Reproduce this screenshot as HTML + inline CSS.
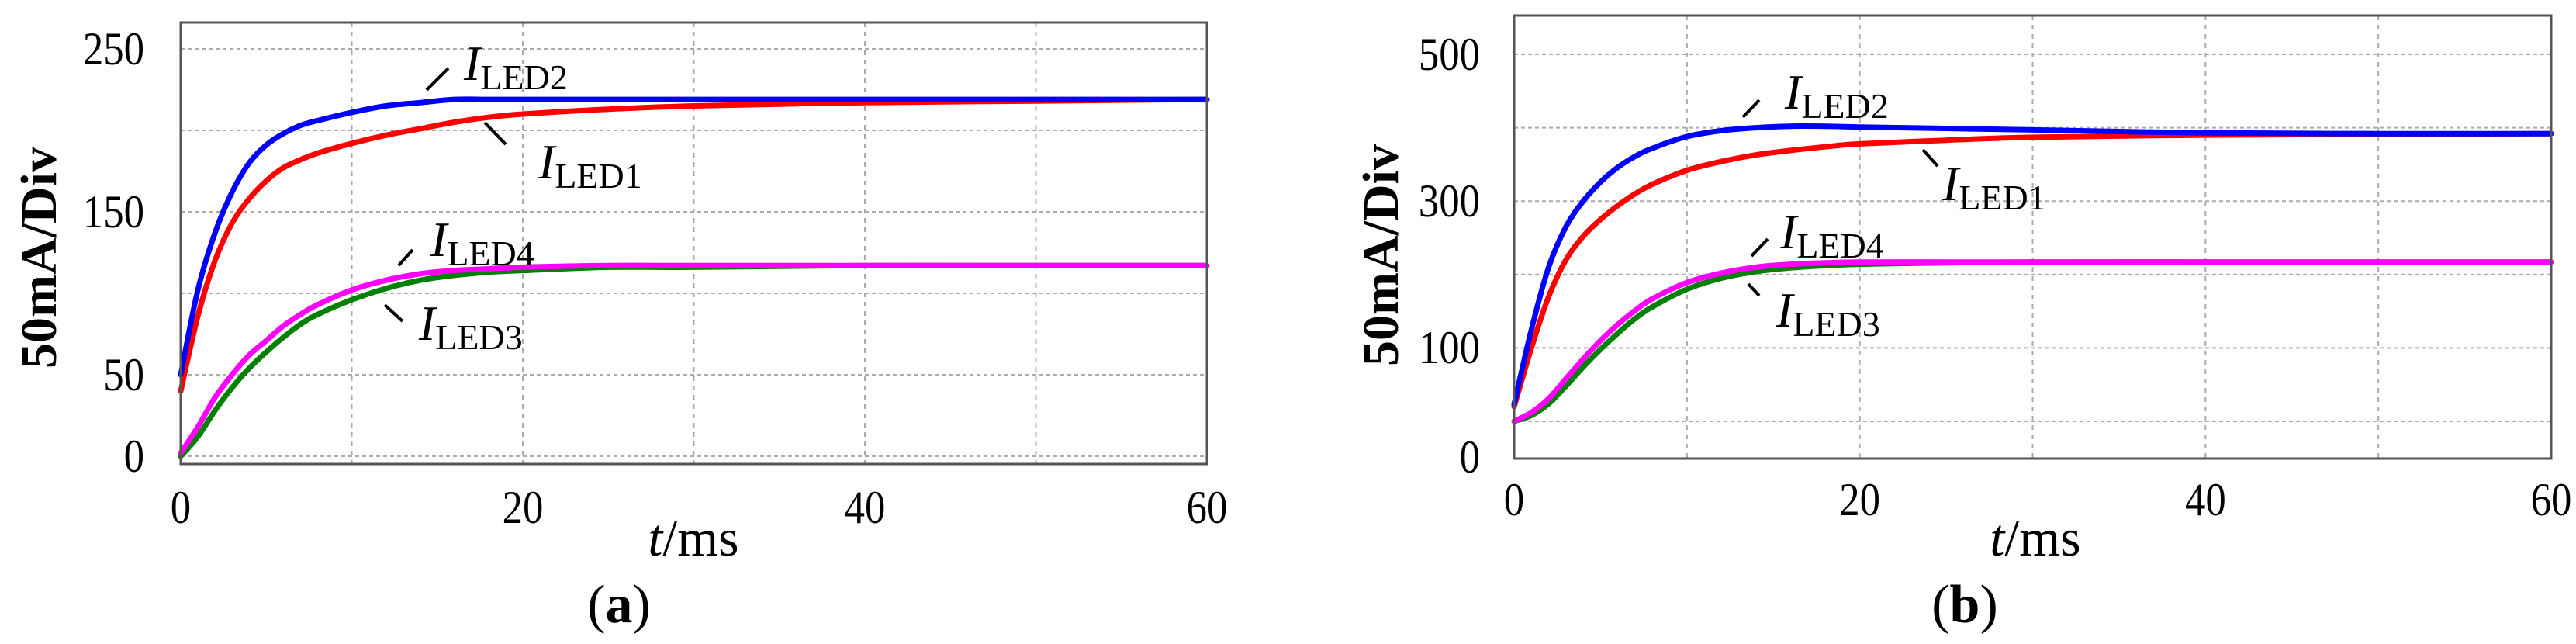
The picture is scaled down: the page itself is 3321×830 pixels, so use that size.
<!DOCTYPE html>
<html><head><meta charset="utf-8"><style>
html,body{margin:0;padding:0;background:#fff;width:3321px;height:830px;overflow:hidden}
svg text{font-family:"Liberation Serif",serif;fill:#000}
</style></head><body>
<svg id="chart" width="3321" height="830" viewBox="0 0 3321 830" xmlns="http://www.w3.org/2000/svg"></svg>
<script>
const times = [0,1,2,3,4,5,6,7,8,10,12,14,16,18,20,25,30,40,50,60];
const aLed1 = [40,86,120,143,158,169,177,182,186,192,197,201,205,208,210,213,215,217,218,219];
const aLed2 = [50,102,137,162,180,191,198,203,206,211,215,217,219,219,219,219,219,219,219,219];
const aLed3 = [0,12,28,42,54,64,73,81,87,96,103,108,111,113,114,116,116,117,117,117];
const aLed4 = [2,18,36,50,62,71,80,87,93,102,108,112,114,115,116,117,117,117,117,117];
const bLed1 = [20,100,170,220,252,275,294,310,323,342,354,363,369,374,378,383,387,390,391,392];
const bLed2 = [23,125,210,265,300,326,346,361,372,388,396,400,402,402,401,399,397,393,392,392];
const bLed3 = [0,8,24,48,74,98,120,140,156,180,195,204,209,212,214,216,217,217,217,217];
const bLed4 = [0,12,31,58,85,110,132,151,167,189,202,210,214,216,217,217,217,217,217,217];
const xTicks = [0,20,40,60];
const aYTicks = ["250","150","50","0"];
const aYTickVals = [250,150,50,0];
const bYTicks = ["500","300","100","0"];

const NS="http://www.w3.org/2000/svg";
const svg=document.getElementById('chart');
function mk(tag,attrs,parent){const e=document.createElementNS(NS,tag);for(const k in attrs)e.setAttribute(k,attrs[k]);(parent||svg).appendChild(e);return e;}

function smoothPath(P){
  let d='M'+P[0][0].toFixed(1)+','+P[0][1].toFixed(1);
  for(let i=0;i<P.length-1;i++){
    const p0=P[Math.max(0,i-1)],p1=P[i],p2=P[i+1],p3=P[Math.min(P.length-1,i+2)];
    const c1=[p1[0]+(p2[0]-p0[0])/6,p1[1]+(p2[1]-p0[1])/6];
    const c2=[p2[0]-(p3[0]-p1[0])/6,p2[1]-(p3[1]-p1[1])/6];
    d+=` C${c1[0].toFixed(1)},${c1[1].toFixed(1)} ${c2[0].toFixed(1)},${c2[1].toFixed(1)} ${p2[0].toFixed(1)},${p2[1].toFixed(1)}`;
  }
  return d;
}

function panel(cfg){
  const g=mk('g',{});
  
  
  const X=t=>cfg.x0+(t/60)*(cfg.x1-cfg.x0);
  const Y=v=>cfg.yZero-v*cfg.pxPerUnit;
  for(let i=1;i<6;i++){
    const l=mk('line',{x1:X(i*10),x2:X(i*10),y1:cfg.top,y2:cfg.bottom,stroke:'#aaa','stroke-width':2,'stroke-dasharray':'6,6'},g);
    
    
  }
  cfg.hGrid.forEach(v=>{
    const l=mk('line',{x1:cfg.x0,x2:cfg.x1,y1:Y(v),y2:Y(v),stroke:'#aaa','stroke-width':2,'stroke-dasharray':'5,4'},g);
    
    
  });
  cfg.series.forEach(s=>{
    const P=times.map((t,i)=>[X(t),Y(s.vals[i])]);
    const p=mk('path',{d:smoothPath(P),fill:'none',stroke:s.color,'stroke-width':7,'stroke-linejoin':'round','stroke-linecap':'round'},g);
    
    
  });
  const r=mk('rect',{x:cfg.x0,y:cfg.top,width:cfg.x1-cfg.x0,height:cfg.bottom-cfg.top,fill:'none',stroke:'#555','stroke-width':3},g);
  
  
  cfg.yLabels.forEach((lab,i)=>{
    const t=mk('text',{x:0,y:0,'font-size':60,'text-anchor':'end',transform:`translate(${cfg.yLabelX},${cfg.yLabelY[i]+20}) scale(0.88,1)`},g);
    t.textContent=lab;
    
    
  });
  xTicks.forEach(v=>{
    const t=mk('text',{x:0,y:0,'font-size':60,'text-anchor':'middle',transform:`translate(${X(v)},${cfg.xLabelY}) scale(0.88,1)`},g);
    t.textContent=v;
    
    
  });
  const xt=mk('text',{x:cfg.xTitleX,y:cfg.xTitleY,'font-size':68,'text-anchor':'middle'},g);
  xt.innerHTML='<tspan font-style="italic">t</tspan>/ms';
  
  
  const yt=mk('text',{x:0,y:0,'font-size':66,'font-weight':'bold','text-anchor':'middle',transform:`translate(${cfg.yTitleX},${cfg.yTitleY}) rotate(-90)`},g);
  yt.textContent='50mA/Div';
  
  
  const cap=mk('text',{x:cfg.capX,y:cfg.capY,'font-size':70,'text-anchor':'middle'},g);
  cap.innerHTML='(<tspan font-weight="bold">'+cfg.cap+'</tspan>)';
  
  
  cfg.labels.forEach(a=>{
    const l=mk('line',{x1:a.l[0],y1:a.l[1],x2:a.l[2],y2:a.l[3],stroke:'#000','stroke-width':4},g);
    
    
    const t=mk('text',{x:a.x,y:a.y,'font-size':64},g);
    t.innerHTML='<tspan font-style="italic">I</tspan><tspan font-size="46" dy="12">LED'+a.n+'</tspan>';
    
    
  });
}

panel({name:'panel-a',x0:233,x1:1556,top:29,bottom:598,yZero:588,pxPerUnit:(588-63)/250,
  hGrid:[250,200,150,100,50,0],
  yLabels:aYTicks,yLabelY:aYTickVals.map(v=>588-v*(525/250)),yLabelX:186,xLabelY:674,
  xTitleX:894,xTitleY:716,yTitleX:72,yTitleY:332,capX:798,capY:802,cap:'a',
  series:[{name:'iled1-curve-a',color:'#ff0000',vals:aLed1},{name:'iled2-curve-a',color:'#0000ff',vals:aLed2},
          {name:'iled3-curve-a',color:'#008000',vals:aLed3},{name:'iled4-curve-a',color:'#ff00ff',vals:aLed4}],
  labels:[{n:2,x:598,y:103,l:[550,116,578,88]},{n:1,x:694,y:230,l:[625,158,652,186]},
          {n:4,x:555,y:330,l:[514,342,532,322]},{n:3,x:540,y:438,l:[496,393,519,414]}]
});
panel({name:'panel-b',x0:1952,x1:3289,top:20,bottom:591,yZero:543,pxPerUnit:(543-70)/500,
  hGrid:[500,400,300,200,100,0],
  yLabels:bYTicks,yLabelY:[70,259,448,589],yLabelX:1908,xLabelY:664,
  xTitleX:2624,xTitleY:716,yTitleX:1802,yTitleY:329,capX:2533,capY:802,cap:'b',
  series:[{name:'iled1-curve-b',color:'#ff0000',vals:bLed1},{name:'iled2-curve-b',color:'#0000ff',vals:bLed2},
          {name:'iled3-curve-b',color:'#008000',vals:bLed3},{name:'iled4-curve-b',color:'#ff00ff',vals:bLed4}],
  labels:[{n:2,x:2301,y:140,l:[2247,151,2268,129]},{n:1,x:2504,y:258,l:[2479,193,2498,214]},
          {n:4,x:2295,y:320,l:[2258,330,2279,308]},{n:3,x:2290,y:421,l:[2254,366,2268,381]}]
});
</script>
</body></html>
